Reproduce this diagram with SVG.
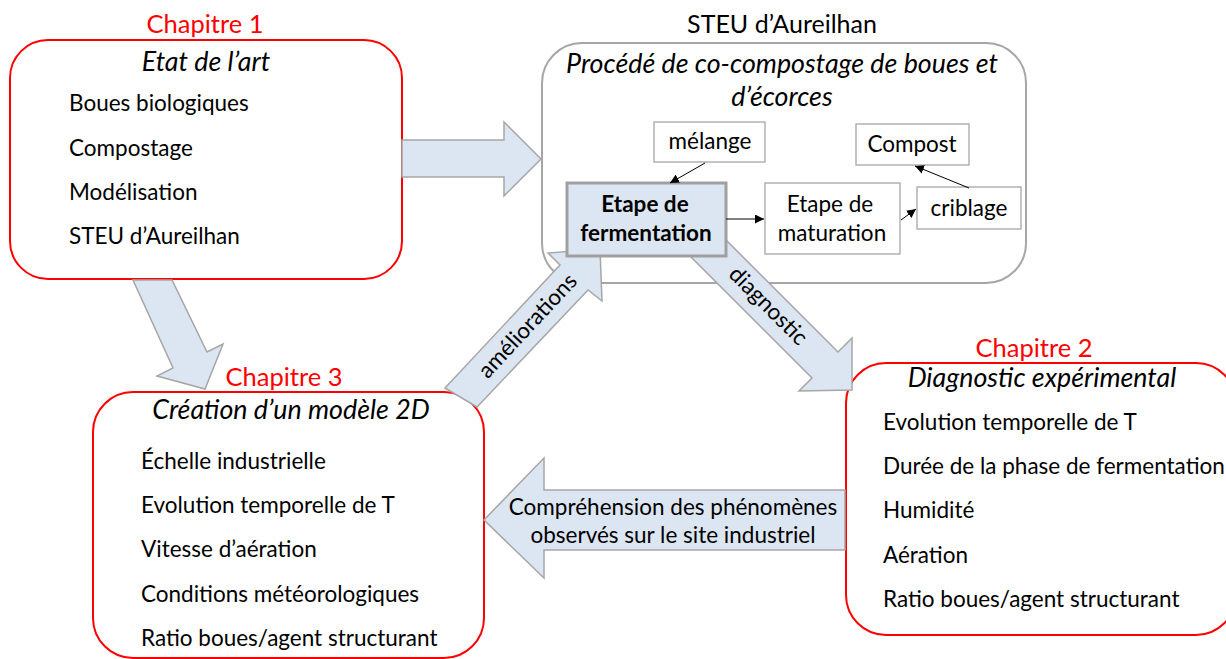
<svg xmlns="http://www.w3.org/2000/svg" width="1226" height="659" viewBox="0 0 1226 659">
<defs>
<style>
.t{font-family:Lato,"Noto Sans","Liberation Sans",sans-serif;fill:#000;}
.li{font-size:22.5px;}
.ch{font-size:25.5px;fill:#ff0000;text-anchor:middle;}
.hd{font-size:25px;text-anchor:middle;}
.it{font-size:26.8px;font-style:italic;text-anchor:middle;}
.sm{font-size:22.5px;text-anchor:middle;}
.bd{font-size:22.5px;font-weight:bold;text-anchor:middle;}
.red{fill:#fff;stroke:#ff0000;stroke-width:2;}
.gray{fill:#fff;stroke:#a6a6a6;stroke-width:2;}
.blk{fill:#dce6f2;stroke:#a6a6a6;stroke-width:1.5;stroke-linejoin:miter;}
.ib{fill:#fff;stroke:#a6a6a6;stroke-width:1.3;}
.cn{stroke:#000;stroke-width:1;fill:none;marker-end:url(#ah);}
</style>
<marker id="ah" viewBox="0 0 10 10" refX="10" refY="5" markerWidth="9" markerHeight="9" markerUnits="userSpaceOnUse" orient="auto">
<path d="M0,0 L10,5 L0,10 z" fill="#000"/>
</marker>
</defs>
<rect width="1226" height="659" fill="#fff"/>

<g id="steu">
<text class="t hd" x="782" y="33">STEU d’Aureilhan</text>
<rect class="gray" x="542" y="43" width="484" height="240" rx="40"/>
<text class="t it" x="782" y="73">Procédé de co-compostage de boues et</text>
<text class="t it" x="782" y="106">d’écorces</text>
</g>

<g id="chapitre1">
<text class="t ch" x="205" y="33">Chapitre 1</text>
<rect class="red" x="10" y="40" width="392" height="239" rx="38"/>
<text class="t it" x="206" y="71">Etat de l’art</text>
<text class="t li" x="69" y="111">Boues biologiques</text>
<text class="t li" x="69" y="156">Compostage</text>
<text class="t li" x="69" y="200">Modélisation</text>
<text class="t li" x="69" y="244">STEU d’Aureilhan</text>
</g>

<g id="chapitre2">
<text class="t ch" x="1034" y="357">Chapitre 2</text>
<rect class="red" x="846" y="363" width="390" height="272" rx="40"/>
<text class="t it" x="1042" y="387">Diagnostic expérimental</text>
<text class="t li" x="883" y="430">Evolution temporelle de T</text>
<text class="t li" x="883" y="474">Durée de la phase de fermentation</text>
<text class="t li" x="883" y="518">Humidité</text>
<text class="t li" x="883" y="563">Aération</text>
<text class="t li" x="883" y="607">Ratio boues/agent structurant</text>
</g>

<g id="chapitre3">
<text class="t ch" x="284" y="386">Chapitre 3</text>
<rect class="red" x="93" y="392" width="391" height="266" rx="40"/>
<text class="t it" x="291" y="419">Création d’un modèle 2D</text>
<text class="t li" x="141" y="469">Échelle industrielle</text>
<text class="t li" x="141" y="513">Evolution temporelle de T</text>
<text class="t li" x="141" y="557">Vitesse d’aération</text>
<text class="t li" x="141" y="602">Conditions météorologiques</text>
<text class="t li" x="141" y="646">Ratio boues/agent structurant</text>
</g>

<g id="block-arrows">
<polygon class="blk" points="402,140 504,140 504,122 541,159 504,196 504,177 402,177"/>
<polygon class="blk" points="133,280 172,280 207,352 223,344 205,389 157,376 173,368"/>
<polygon class="blk" points="445,388 560,265 548,253 600,249 602,301 588,290 477,407"/>
<polygon class="blk" points="680,246 812,378 799,391 852,390 852,338 838,352 706,220"/>
<polygon class="blk" points="845,490 544,490 544,458 484,520 544,578 544,550 845,550"/>
<text class="t sm" transform="translate(528,326) rotate(-47)" y="7">améliorations</text>
<text class="t sm" transform="translate(768,306) rotate(45)" y="7">diagnostic</text>
<text class="t sm" x="673" y="515">Compréhension des phénomènes</text>
<text class="t sm" x="673" y="543">observés sur le site industriel</text>
</g>

<g id="melange">
<rect class="ib" x="654" y="122" width="111" height="40"/>
<text class="t sm" x="710" y="149">mélange</text>
</g>
<g id="compost">
<rect class="ib" x="856" y="124" width="113" height="41"/>
<text class="t sm" x="912" y="152">Compost</text>
</g>
<g id="fermentation">
<rect x="567" y="183" width="159" height="73" fill="#dce6f2" stroke="#a0a0a0" stroke-width="3"/>
<text class="t bd" x="645" y="212">Etape de</text>
<text class="t bd" x="646" y="241">fermentation</text>
</g>
<g id="maturation">
<rect class="ib" x="765" y="183" width="135" height="71"/>
<text class="t sm" x="830" y="212">Etape de</text>
<text class="t sm" x="832" y="241">maturation</text>
</g>
<g id="criblage">
<rect class="ib" x="917" y="187" width="104" height="42"/>
<text class="t sm" x="969" y="216">criblage</text>
</g>

<g id="connectors">
<line class="cn" x1="705" y1="163" x2="670" y2="183"/>
<line class="cn" x1="726" y1="219" x2="764" y2="219"/>
<line class="cn" x1="901" y1="220" x2="916" y2="209"/>
<line class="cn" x1="969" y1="188" x2="915" y2="166"/>
</g>
</svg>
